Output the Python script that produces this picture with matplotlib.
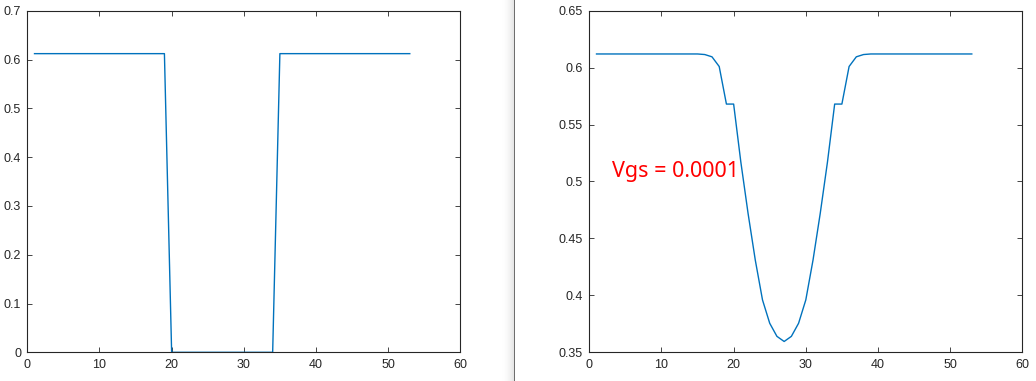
import matplotlib
matplotlib.use("Agg")
import matplotlib.pyplot as plt
from matplotlib.patches import Rectangle
import numpy as np

# ---- data ----
x_idx = list(range(1, 54))
left_vals = [0.612] * 19 + [0.0] * 15 + [0.612] * 19

right_half = [0.612, 0.612, 0.612, 0.612, 0.612, 0.612, 0.612, 0.612, 0.612,
              0.612, 0.612, 0.612, 0.612, 0.612, 0.612, 0.6115, 0.6095, 0.601,
              0.568, 0.568, 0.517, 0.472, 0.431, 0.396, 0.3755, 0.364]
right_min = [0.3595]
right_vals = right_half + right_min + right_half[::-1]

left_yticks = [0, 0.1, 0.2, 0.3, 0.4, 0.5, 0.6, 0.7]
left_ylabels = ["0", "0.1", "0.2", "0.3", "0.4", "0.5", "0.6", "0.7"]
right_yticks = [0.35, 0.4, 0.45, 0.5, 0.55, 0.6, 0.65]
right_ylabels = ["0.35", "0.4", "0.45", "0.5", "0.55", "0.6", "0.65"]
xticks = [0, 10, 20, 30, 40, 50, 60]
xlabels = ["0", "10", "20", "30", "40", "50", "60"]
annotation = "Vgs = 0.0001"

W, H = 1036, 381
fig = plt.figure(figsize=(W / 100, H / 100), dpi=100)
fig.patch.set_facecolor("white")

plt.rcParams['font.family'] = ['Liberation Sans', 'DejaVu Sans']

# separator (screenshot artefact)
for i in range(14):
    g = 1.0 - 0.1 * (i / 13.0) ** 2
    fig.add_artist(Rectangle(((500 + i) / W, 0), 1 / W, 1, transform=fig.transFigure,
                             facecolor=(g, g, g), edgecolor='none', zorder=0))
fig.add_artist(Rectangle((513.5 / W, 0), 1.8 / W, 1, transform=fig.transFigure,
                         facecolor='#6e6e6e', edgecolor='none', zorder=0))

line_color = '#0072BD'
axis_color = '#262626'


def style(ax, yticks, ylabels, ylim):
    ax.set_xlim(0, 60)
    ax.set_ylim(*ylim)
    ax.set_xticks(xticks)
    ax.set_xticklabels(xlabels)
    ax.set_yticks(yticks)
    ax.set_yticklabels(ylabels)
    ax.tick_params(direction='in', length=3.5, width=0.6, colors=axis_color,
                   labelsize=9, top=True, right=True)
    ax.tick_params(axis='x', pad=5)
    ax.tick_params(axis='y', pad=4.5)
    for s in ax.spines.values():
        s.set_linewidth(0.8)
        s.set_color(axis_color)


ax1 = fig.add_axes([27.3 / W, (H - 352.3) / H, 433 / W, 341.6 / H])
ax1.plot(x_idx, left_vals, color=line_color, lw=1.0, clip_on=False)
style(ax1, left_yticks, left_ylabels, (0, 0.7))

ax2 = fig.add_axes([589.3 / W, (H - 352.3) / H, 433 / W, 341.6 / H])
ax2.plot(x_idx, right_vals, color=line_color, lw=1.0)
style(ax2, right_yticks, right_ylabels, (0.35, 0.65))
ax2.text(3.2, 0.509, annotation, color='#ff0000', fontsize=15.5,
         family=['Noto Sans', 'DejaVu Sans'], va='center', ha='left')

fig.savefig("out.png", dpi=100)
